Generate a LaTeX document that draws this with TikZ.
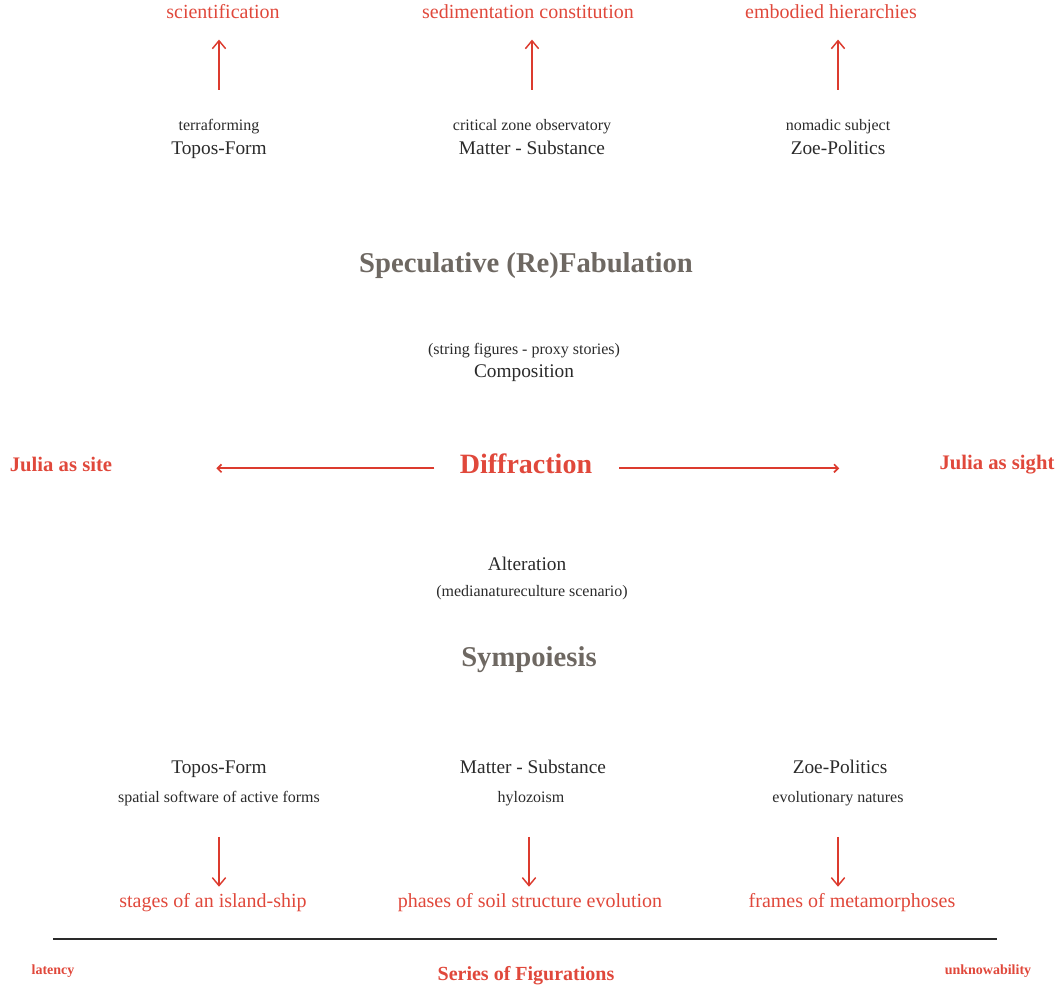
\documentclass[tikz,border=0pt]{standalone}
\usepackage{fontspec}
\setmainfont{Liberation Serif}
\usepackage{xcolor}
\usepackage{tikz}
\usetikzlibrary{arrows.meta}
\definecolor{fabred}{HTML}{E0483B}
\definecolor{arrred}{HTML}{DC3B2E}
\definecolor{fabgray}{HTML}{6E6862}
\definecolor{ink}{HTML}{2A2A2A}

\begin{document}
\begin{tikzpicture}[x=7.5pt,y=-7.5pt,inner sep=0pt,
    every node/.style={inner sep=0pt,text=ink,text height=0.9em,text depth=0em},
    redlbl/.style={text=fabred,font=\fontsize{15}{18}\selectfont},
    mainlbl/.style={font=\fontsize{14.5}{17}\selectfont},
    smalllbl/.style={font=\fontsize{12}{14}\selectfont},
    headlbl/.style={text=fabgray,font=\fontsize{21.5}{25}\selectfont\bfseries},
    boldred/.style={text=fabred,font=\fontsize{15.5}{18}\selectfont\bfseries},
    uparr/.style={draw=arrred,line width=1.1pt,-{Straight Barb[length=6pt,width=10pt]},
      shorten <=21pt,shorten >=16pt},
    downarr/.style={draw=arrred,line width=1.1pt,-{Straight Barb[length=6pt,width=10pt]},
      shorten <=26pt,shorten >=6pt},
    sidearr/.style={draw=arrred,line width=1.3pt,-{Straight Barb[length=3pt,width=6pt]}}]
  \useasboundingbox (0,0) rectangle (105.8,99.0);
  % upper row
  \node[redlbl] (sci) at (22.3,1.2) {scientification};
  \node[redlbl] (sed) at (52.8,1.2) {sedimentation constitution};
  \node[redlbl] (emb) at (83.1,1.2) {embodied hierarchies};
  \node[smalllbl] (terra) at (21.9,12.4) {terraforming};
  \node[mainlbl] (toposA) at (21.9,14.8) {Topos-Form};
  \node[smalllbl] (czo) at (53.2,12.4) {critical zone observatory};
  \node[mainlbl] (matterA) at (53.2,14.8) {Matter - Substance};
  \node[smalllbl] (nomad) at (83.8,12.4) {nomadic subject};
  \node[mainlbl] (zoeA) at (83.8,14.8) {Zoe-Politics};
  \draw[uparr] (terra.north) -- (terra.north |- sci.south);
  \draw[uparr] (czo.north) -- (czo.north |- sed.south);
  \draw[uparr] (nomad.north) -- (nomad.north |- emb.south);
  % centre
  \node[headlbl] (spec) at (52.6,26.6) {Speculative (Re)Fabulation};
  \node[smalllbl] (string) at (52.4,34.8) {(string figures - proxy stories)};
  \node[mainlbl] (compo) at (52.4,37.1) {Composition};
  \node[boldred] (site) at (6.1,46.5) {Julia as site};
  \node[boldred,font=\fontsize{21}{25}\selectfont\bfseries] (diffr) at (52.6,46.7) {Diffraction};
  \node[boldred] (sight) at (99.7,46.3) {Julia as sight};
  \draw[sidearr,shorten <=19pt,shorten >=78pt] ([yshift=-1pt]diffr.west) -- ([yshift=-1pt]diffr.west -| site.east);
  \draw[sidearr,shorten <=20pt,shorten >=75pt] ([yshift=-1pt]diffr.east) -- ([yshift=-1pt]diffr.east -| sight.west);
  \node[mainlbl] (alter) at (52.7,56.4) {Alteration};
  \node[smalllbl] (media) at (53.2,59.0) {(medianatureculture scenario)};
  \node[headlbl] (symp) at (52.9,66.0) {Sympoiesis};
  % lower row
  \node[mainlbl] (toposB) at (21.9,76.7) {Topos-Form};
  \node[smalllbl] (spatial) at (21.9,79.6) {spatial software of active forms};
  \node[mainlbl] (matterB) at (53.3,76.7) {Matter - Substance};
  \node[smalllbl] (hylo) at (53.1,79.6) {hylozoism};
  \node[mainlbl] (zoeB) at (84.0,76.7) {Zoe-Politics};
  \node[smalllbl] (evol) at (83.8,79.6) {evolutionary natures};
  \node[redlbl] (stages) at (21.3,90.1) {stages of an island-ship};
  \node[redlbl] (phases) at (53.0,90.1) {phases of soil structure evolution};
  \node[redlbl] (frames) at (85.2,90.1) {frames of metamorphoses};
  \draw[downarr] (spatial.south) -- (spatial.south |- stages.north);
  \draw[downarr] ([xshift=-1.5pt]hylo.south) -- ([xshift=-1.5pt]hylo.south |- phases.north);
  \draw[downarr] (evol.south) -- (evol.south |- frames.north);
  % series line
  \coordinate (lineL) at (5.3,93.9);
  \coordinate (lineR) at (99.7,93.9);
  \draw[line width=2.2pt,ink] (lineL) -- (lineR);
  \node[boldred,font=\fontsize{10.5}{12}\selectfont\bfseries] (laten) at (5.3,96.8) {latency};
  \node[boldred,font=\fontsize{15}{18}\selectfont\bfseries] (series) at (52.6,97.4) {Series of Figurations};
  \node[boldred,font=\fontsize{10.5}{12}\selectfont\bfseries] (unkn) at (98.8,96.8) {unknowability};
\end{tikzpicture}
\end{document}
